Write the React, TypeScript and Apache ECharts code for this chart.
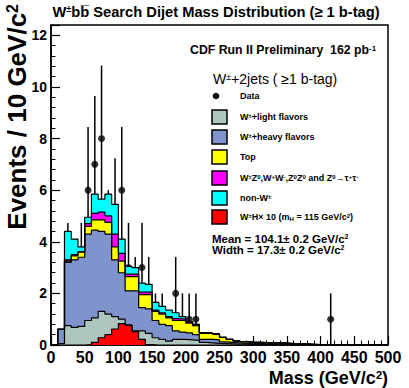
import React, { useEffect, useRef } from "react";
import * as echarts from "echarts";

// ---- data (10 GeV bins, lower edges 0..490) ----
const binLowEdges = Array.from({ length: 50 }, (_, i) => i * 10);

const wLight = [0, 0.05, 0.75, 0.68, 0.72, 0.95, 1.05, 1.3, 1.2, 1.1, 1.0, 0.78, 0.55, 0.55, 0.45, 0.28, 0.22, 0.15, 0.22, 0.22, 0.2, 0.18, 0.1, 0.08, 0.06, 0.05, 0.04, 0.03, 0.03, 0.02, 0.02, 0.02, 0.02, 0.01, 0.01, 0.01, 0.01, 0.01, 0, 0, 0, 0, 0, 0, 0, 0, 0, 0, 0, 0];
const wHeavy = [0, 0.55, 2.45, 2.62, 2.68, 3.35, 3.4, 3.1, 3.1, 2.2, 1.8, 1.32, 1.55, 0.9, 0.95, 0.67, 0.58, 0.6, 0.33, 0.28, 0.27, 0.22, 0.12, 0.14, 0.14, 0.07, 0.06, 0.05, 0.03, 0.03, 0.03, 0.02, 0.02, 0.02, 0.02, 0.01, 0.01, 0.01, 0.01, 0.01, 0.01, 0.01, 0.005, 0.005, 0.005, 0.005, 0.005, 0.005, 0.005, 0.005];
const topQuark = [0, 0, 0.05, 0.15, 0.2, 0.3, 0.4, 0.45, 0.45, 0.5, 0.45, 0.55, 0.55, 0.5, 0.55, 0.35, 0.4, 0.3, 0.4, 0.45, 0.38, 0.35, 0.23, 0.23, 0.22, 0.18, 0.12, 0.08, 0.07, 0.06, 0.05, 0.05, 0.04, 0.05, 0.04, 0.03, 0.03, 0.02, 0.02, 0.01, 0.01, 0.01, 0.005, 0.005, 0.005, 0.005, 0.005, 0.005, 0.005, 0.005];
const diboson = [0, 0.02, 0.05, 0.05, 0.02, 0.1, 0.25, 0.3, 0.25, 0.5, 0.3, 0.1, 0.1, 0.1, 0.1, 0.05, 0.05, 0.05, 0.07, 0.05, 0.05, 0.05, 0.02, 0.01, 0.01, 0, 0, 0, 0, 0, 0, 0, 0, 0, 0, 0, 0, 0, 0, 0, 0, 0, 0, 0, 0, 0, 0, 0, 0, 0];
const nonW = [0, 0, 1.1, 0.6, 0.18, 0.25, 0.75, 0.5, 0.85, 1.15, 0.55, 0.3, 0.25, 0.35, 0.3, 0.3, 0.25, 0.25, 0.23, 0.1, 0, 0, 0, 0, 0, 0, 0, 0, 0, 0, 0, 0, 0, 0, 0, 0, 0, 0, 0, 0, 0, 0, 0, 0, 0, 0, 0, 0, 0, 0];
const whX10 = [0, 0, 0, 0, 0, 0.02, 0.1, 0.28, 0.4, 0.62, 0.83, 0.76, 0.52, 0.22, 0.02, 0, 0, 0, 0, 0, 0, 0, 0, 0, 0, 0, 0, 0, 0, 0, 0, 0, 0, 0, 0, 0, 0, 0, 0, 0, 0, 0, 0, 0, 0, 0, 0, 0, 0, 0];

const dataCenters = [25, 35, 45, 55, 65, 75, 85, 95, 105, 115, 125, 135, 145, 155, 165, 185, 195, 205, 215, 415];
const dataCounts = [3, 2, 3, 6, 7, 8, 4, 5, 6, 3, 2, 3, 2, 1, 1, 2, 1, 1, 1, 1];

const titleText = "W{s|±}b{n|b\u0305} Search Dijet Mass Distribution (≥ 1 b-tag)";
const runText = "CDF Run II Preliminary  162 pb{s|-1}";
const headerText = "W{s|±}+2jets ( ≥1 b-tag)";
const legendLabels = [
  "W{s|±}+light flavors",
  "W{s|±}+heavy flavors",
  "Top",
  "W{s|±}Z{s|0},W{s|+}W{s|-},Z{s|0}Z{s|0} and Z{s|0}→τ{s|+}τ{s|-}",
  "non-W{s|±}",
  "W{s|±}H× 10 (m{b|H} = 115 GeV/c{s|2})",
];
const legendColors = ["#adc7bf", "#7f93cc", "#ffff00", "#ff00ff", "#00ffff", "#ff0000"];
const meanText = "Mean = 104.1± 0.2 GeV/c{s|2}";
const widthText = "Width = 17.3± 0.2 GeV/c{s|2}";

const FF = '"Liberation Sans", Arial, Helvetica, sans-serif';

function richFor(size: number, weight: string) {
  return {
    n: { font: `${weight} ${size}px ${FF}`, fill: "#000" },
    s: { font: `${weight} ${Math.round(size * 0.62)}px ${FF}`, fill: "#000", verticalAlign: "top" },
    b: { font: `${weight} ${Math.round(size * 0.62)}px ${FF}`, fill: "#000", verticalAlign: "bottom" },
  };
}

function textEl(text: string, x: number, y: number, size: number, weight: string, align = "left", rotation = 0) {
  return {
    type: "text",
    x,
    y,
    rotation,
    silent: true,
    style: {
      text,
      font: `${weight} ${size}px ${FF}`,
      fill: "#000",
      align,
      textAlign: align,
      verticalAlign: "middle",
      textVerticalAlign: "middle",
      rich: richFor(size, weight),
    },
  };
}

export default function App() {
  const ref = useRef<HTMLDivElement>(null);
  useEffect(() => {
    if (!ref.current) return;
    const chart = echarts.init(ref.current, null, { renderer: "svg" });

    const c1 = wLight.slice();
    const c2 = c1.map((v, i) => v + wHeavy[i]);
    const c3 = c2.map((v, i) => v + topQuark[i]);
    const c4 = c3.map((v, i) => v + diboson[i]);
    const c5 = c4.map((v, i) => v + nonW[i]);

    const stepData = (vals: number[]) => {
      const d = binLowEdges.map((e, i) => [e, vals[i]]);
      d.push([500, vals[vals.length - 1]]);
      return d;
    };
    const histSeries = (vals: number[], color: string) => ({
      type: "line",
      step: "end",
      data: stepData(vals),
      symbol: "none",
      showSymbol: false,
      silent: true,
      lineStyle: { color: "#000", width: 1.2 },
      areaStyle: { color, opacity: 1 },
    });

    const legendY = [117, 137, 157, 178, 198, 217];
    const graphics: any[] = [
      textEl(titleText, 216, 12, 14.7, "bold", "center"),
      textEl("Events / 10 GeV/c{s|2}", 17, 4, 26, "bold", "right", Math.PI / 2),
      textEl("Mass (GeV/c{s|2})", 388, 378, 18, "bold", "right"),
      textEl(runText, 190, 50, 12.3, "bold"),
      textEl(headerText, 213, 79, 14, "normal"),
      { type: "circle", shape: { cx: 216, cy: 96, r: 3.3 }, style: { fill: "#000" }, silent: true },
      textEl("Data", 240, 96, 9, "bold"),
      textEl(meanText, 212, 239, 11.5, "bold"),
      textEl(widthText, 212, 250, 11.5, "bold"),
    ];
    legendLabels.forEach((lab, i) => {
      graphics.push({
        type: "rect",
        shape: { x: 212, y: legendY[i] - 7, width: 15, height: 14 },
        style: { fill: legendColors[i], stroke: "#000", lineWidth: 1.5 },
        silent: true,
      });
      graphics.push(textEl(lab, 240, legendY[i], 9, "bold"));
    });

    const option: any = {
      animation: false,
      backgroundColor: "#fff",
      grid: { left: 51, right: 21, top: 25, bottom: 43, show: true, borderColor: "#000", borderWidth: 1.5, backgroundColor: "transparent" },
      xAxis: {
        type: "value",
        min: 0,
        max: 500,
        interval: 50,
        axisLine: { show: true, lineStyle: { color: "#000", width: 1.5 } },
        axisTick: { show: true, inside: true, length: 9, lineStyle: { color: "#000", width: 1.2 } },
        minorTick: { show: true, splitNumber: 5, length: 4.5, lineStyle: { color: "#000", width: 1 } },
        splitLine: { show: false },
        axisLabel: { color: "#000", fontSize: 16, fontWeight: "bold", fontFamily: FF, margin: 4 },
      },
      yAxis: {
        type: "value",
        min: 0,
        max: 12.4,
        interval: 2,
        axisLine: { show: true, lineStyle: { color: "#000", width: 1.5 } },
        axisTick: { show: true, inside: true, length: 9, lineStyle: { color: "#000", width: 1.2 } },
        minorTick: { show: true, splitNumber: 5, length: 4.5, lineStyle: { color: "#000", width: 1 } },
        splitLine: { show: false },
        axisLabel: {
          color: "#000",
          fontSize: 14,
          fontWeight: "bold",
          fontFamily: FF,
          margin: 4,
          formatter: (v: number) => (Math.abs(v - Math.round(v / 2) * 2) < 1e-6 ? String(Math.round(v)) : ""),
        },
      },
      series: [
        histSeries(c5, "#00ffff"),
        histSeries(c4, "#ff00ff"),
        histSeries(c3, "#ffff00"),
        histSeries(c2, "#7f93cc"),
        histSeries(c1, "#adc7bf"),
        histSeries(whX10, "#ff0000"),
        {
          type: "custom",
          silent: true,
          data: dataCenters.map((c, i) => [c, dataCounts[i], Math.sqrt(dataCounts[i])]),
          encode: { x: 0, y: 1 },
          renderItem: (_p: any, api: any) => {
            const x = api.value(0);
            const y = api.value(1);
            const e = api.value(2);
            const a = api.coord([x, y - e]);
            const b = api.coord([x, y + e]);
            return {
              type: "line",
              shape: { x1: a[0], y1: a[1], x2: b[0], y2: b[1] },
              style: { stroke: "#000", lineWidth: 1.5 },
            };
          },
        },
        {
          type: "scatter",
          silent: true,
          symbol: "circle",
          symbolSize: 7,
          itemStyle: { color: "#000" },
          data: dataCenters.map((c, i) => [c, dataCounts[i]]),
        },
      ],
      graphic: graphics,
    };
    chart.setOption(option);
    return () => chart.dispose();
  }, []);
  return <div ref={ref} style={{ position: "fixed", left: 0, top: 0, width: 409, height: 388 }} />;
}
